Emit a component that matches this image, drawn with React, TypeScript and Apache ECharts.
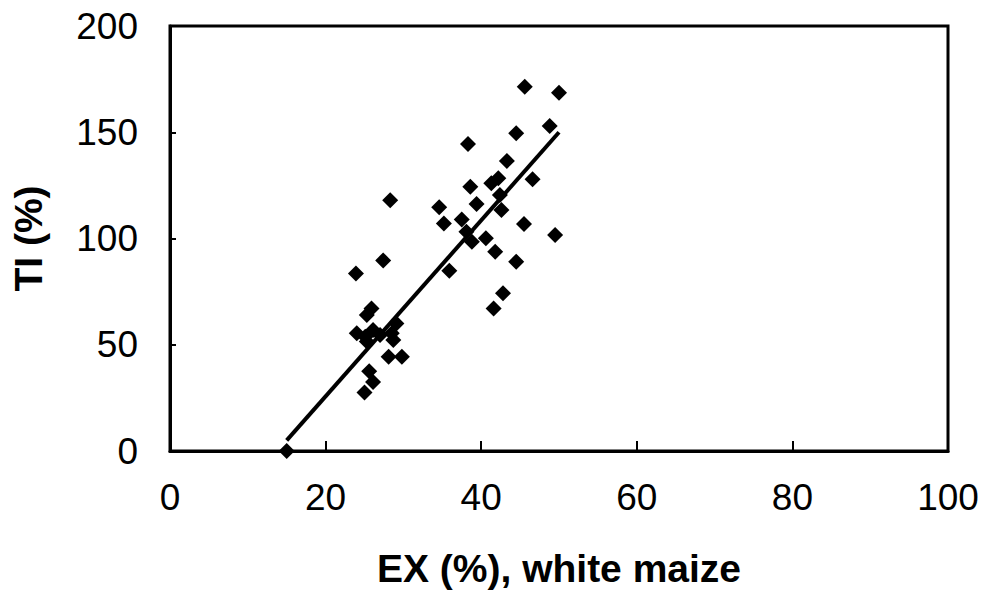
import React, { useEffect, useRef } from "react";
import * as echarts from "echarts";

const exValues: number[] = [
  15.0, 23.9, 27.4, 28.3, 25.9, 25.3, 24.0, 25.1, 26.1, 27.0, 28.5, 28.7, 29.1, 25.3, 28.1,
  29.8, 25.6, 26.1, 25.0, 35.9, 41.6, 42.8, 44.5, 41.8, 49.5, 38.8, 40.6, 38.1, 45.5, 35.2,
  37.5, 34.6, 39.4, 42.6, 42.4, 38.6, 41.3, 42.2, 46.6, 43.3, 38.3, 44.5, 48.8, 45.6, 50.0,
];
const tiValues: number[] = [
  0, 83.5, 89.7, 118, 67.1, 64, 55.4, 53.8, 57, 54.6, 55.4, 52.2, 60, 51.5, 44.4,
  44.4, 37.5, 32.5, 27.5, 84.8, 67.1, 74.2, 89.1, 93.8, 101.6, 98.5, 100.1, 103.2, 106.8, 107.1,
  109, 114.7, 116.2, 113.4, 120.5, 124.4, 126, 128.3, 127.9, 136.5, 144.5, 149.5, 152.9, 171.4, 168.6,
];
const fitX: number[] = [15, 50];
const fitY: number[] = [5, 150];

const xTitle = "EX (%), white maize";
const yTitle = "TI (%)";

export default function App() {
  const ref = useRef<HTMLDivElement>(null);
  useEffect(() => {
    if (!ref.current) return;
    const chart = echarts.init(ref.current, undefined, { renderer: "svg" });
    const font = "Liberation Sans, Arial, sans-serif";
    chart.setOption({
      animation: false,
      backgroundColor: "#fff",
      grid: {
        left: 170,
        right: 39,
        top: 26,
        bottom: 145,
        show: true,
        borderColor: "#000",
        borderWidth: 3,
        backgroundColor: "transparent",
      },
      xAxis: {
        type: "value",
        min: 0,
        max: 100,
        interval: 20,
        name: xTitle,
        nameLocation: "middle",
        nameGap: 98,
        nameTextStyle: { fontFamily: font, fontSize: 39, fontWeight: "bold", color: "#000" },
        axisLine: { show: true, lineStyle: { color: "#000", width: 3 } },
        axisTick: { show: true, inside: true, length: 10, lineStyle: { color: "#000", width: 2 } },
        axisLabel: { fontFamily: font, fontSize: 37, color: "#000", margin: 28 },
        splitLine: { show: false },
      },
      yAxis: {
        type: "value",
        min: 0,
        max: 200,
        interval: 50,
        name: yTitle,
        nameLocation: "middle",
        nameGap: 122,
        nameRotate: 90,
        nameTextStyle: { fontFamily: font, fontSize: 39, fontWeight: "bold", color: "#000" },
        axisLine: { show: true, lineStyle: { color: "#000", width: 3 } },
        axisTick: { show: true, inside: true, length: 6, lineStyle: { color: "#000", width: 2 } },
        axisLabel: { fontFamily: font, fontSize: 37, color: "#000", margin: 32 },
        splitLine: { show: false },
      },
      series: [
        {
          type: "line",
          data: fitX.map((x, i) => [x, fitY[i]]),
          symbol: "none",
          lineStyle: { color: "#000", width: 4 },
          z: 2,
        },
        {
          type: "scatter",
          data: exValues.map((x, i) => [x, tiValues[i]]),
          symbol: "diamond",
          symbolSize: 16,
          itemStyle: { color: "#000", opacity: 1 },
          z: 3,
        },
      ],
    });
    return () => chart.dispose();
  }, []);
  return <div ref={ref} style={{ width: 987, height: 596, position: "absolute", left: 0, top: 0 }} />;
}
